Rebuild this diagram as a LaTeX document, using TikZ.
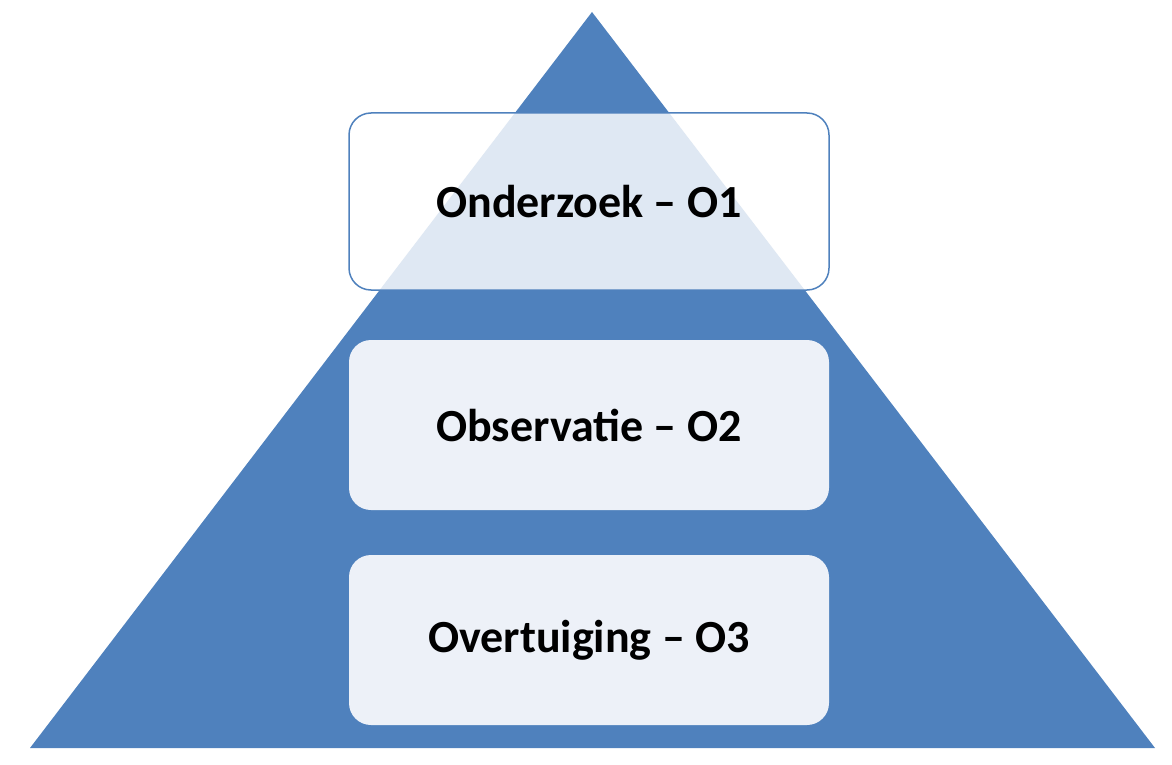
\documentclass[tikz,border=0pt]{standalone}
\usepackage{fontspec}
\setmainfont{Carlito}
\begin{document}
\begin{tikzpicture}[x=1pt,y=-1pt]
\definecolor{tri}{HTML}{4F81BD}
\definecolor{lbox}{HTML}{EDF1F8}
\tikzset{lbl/.style={rounded corners=22pt,minimum width=480pt,inner sep=0pt,font=\fontsize{46}{50}\selectfont\bfseries,text=black}}
\useasboundingbox (0,0) rectangle (1172,765);
\fill[tri] (592,12) -- (1155,748) -- (30,748) -- cycle;
\node[lbl,draw=tri,line width=1.5pt,fill=white,fill opacity=0.82,text opacity=1,minimum height=177pt] (o1) at (589,201.5) {Onderzoek – O1};
\node[lbl,fill=lbox,minimum height=170pt] (o2) at (589,425) {Observatie – O2};
\node[lbl,fill=lbox,minimum height=170pt] (o3) at (589,640) {Overtuiging – O3};
\end{tikzpicture}
\end{document}
